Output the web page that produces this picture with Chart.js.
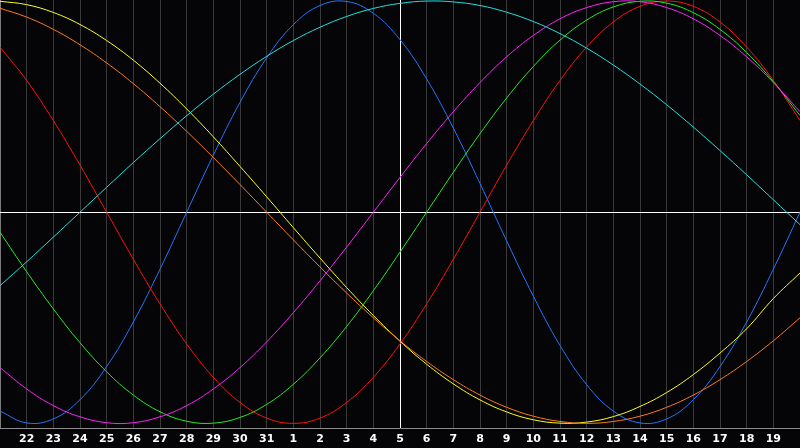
<!DOCTYPE html>
<html>
<head>
<meta charset="utf-8">
<script src="https://cdn.jsdelivr.net/npm/chart.js@4"></script>
<style>
  html, body { margin: 0; padding: 0; background: #050507; }
  #wrap { width: 800px; height: 448px; }
</style>
</head>
<body>
<div id="wrap"><canvas id="bioChart"></canvas></div>
<script>
// days along the x axis (21st of last month to the 20th)
const days = [21, 22, 23, 24, 25, 26, 27, 28, 29, 30, 31,
              1, 2, 3, 4, 5, 6, 7, 8, 9, 10, 11, 12, 13, 14, 15, 16, 17, 18, 19, 20];
const todayIndex = 15;

// cycle values per day
const physical = [-0.942, -0.998, -0.979, -0.888, -0.731, -0.520, -0.270, 0, 0.270, 0.520, 0.731,
  0.888, 0.979, 0.998, 0.942, 0.817, 0.631, 0.398, 0.136, -0.136, -0.398, -0.631, -0.817,
  -0.942, -0.998, -0.979, -0.888, -0.731, -0.520, -0.270, 0];
const emotional = [0.782, 0.624, 0.434, 0.223, 0, -0.223, -0.434, -0.624, -0.782, -0.901, -0.975,
  -1, -0.975, -0.901, -0.782, -0.624, -0.434, -0.223, 0, 0.223, 0.434, 0.624, 0.782,
  0.901, 0.975, 1, 0.975, 0.901, 0.782, 0.624, 0.434];
const intellectual = [-0.095, -0.282, -0.458, -0.618, -0.756, -0.866, -0.945, -0.990, -0.999, -0.972, -0.910,
  -0.815, -0.690, -0.541, -0.372, -0.189, 0, 0.189, 0.372, 0.541, 0.690, 0.815, 0.910,
  0.972, 0.999, 0.990, 0.945, 0.866, 0.756, 0.618, 0.458];
const intuitive = [-0.736, -0.837, -0.916, -0.969, -0.997, -0.997, -0.969, -0.916, -0.837, -0.736, -0.614,
  -0.476, -0.325, -0.165, 0, 0.165, 0.325, 0.476, 0.614, 0.736, 0.837, 0.916, 0.969,
  0.997, 0.997, 0.969, 0.916, 0.837, 0.736, 0.614, 0.476];
const aesthetic = [0.999, 0.983, 0.946, 0.889, 0.813, 0.720, 0.611, 0.489, 0.357, 0.217, 0.073,
  -0.073, -0.217, -0.357, -0.489, -0.611, -0.720, -0.813, -0.889, -0.946, -0.983, -0.999, -0.994,
  -0.968, -0.920, -0.854, -0.769, -0.667, -0.552, -0.409, -0.288];
const awareness = [0.966, 0.924, 0.866, 0.793, 0.707, 0.609, 0.5, 0.383, 0.259, 0.131, 0,
  -0.131, -0.259, -0.383, -0.5, -0.609, -0.707, -0.793, -0.866, -0.924, -0.966, -0.991, -1,
  -0.991, -0.966, -0.924, -0.866, -0.793, -0.707, -0.609, -0.5];
const spiritual = [-0.348, -0.235, -0.118, 0, 0.118, 0.235, 0.348, 0.457, 0.559, 0.653, 0.738,
  0.813, 0.876, 0.927, 0.965, 0.989, 1.0, 0.996, 0.979, 0.947, 0.903, 0.846, 0.777,
  0.697, 0.607, 0.509, 0.403, 0.292, 0.177, 0.059, -0.059];

function line(data, color) {
    return {
        data: data,
        borderColor: color,
        borderWidth: 1,
        pointRadius: 0,
        tension: 0.4,
        fill: false
    };
}

const ctx = document.getElementById('bioChart').getContext('2d');
new Chart(ctx, {
    type: 'line',
    data: {
        labels: days,
        datasets: [
            line(spiritual, '#22e0e0'),
            line(awareness, '#ff7a1a'),
            line(aesthetic, '#ffff22'),
            line(intuitive, '#ff22ff'),
            line(intellectual, '#22ee22'),
            line(emotional, '#ff1111'),
            line(physical, '#2277ff')
        ]
    },
    options: {
        responsive: true,
        maintainAspectRatio: false,
        animation: false,
        // label row is 22px tall, so let it hang 2px past the bottom to keep the plot 428px high
        layout: { autoPadding: false, padding: { left: 0, right: 0, top: 0, bottom: -2 } },
        plugins: {
            legend: { display: false },
            tooltip: { enabled: false }
        },
        scales: {
            x: {
                offset: false,
                border: { color: '#8c8c8c' },
                grid: {
                    drawTicks: false,
                    color: c => c.index === todayIndex ? '#ffffff' : (c.index === 0 ? '#7a7a7a' : '#3a3a3a')
                },
                ticks: {
                    autoSkip: false,
                    maxRotation: 0,
                    padding: 0,
                    color: '#ffffff',
                    font: { family: 'DejaVu Sans', size: 11, weight: 'bold', lineHeight: 2 },
                    callback: (value, index) => (index === 0 || index === days.length - 1) ? '' : days[index]
                }
            },
            y: {
                min: -1.022,
                max: 1.005,
                border: { display: false },
                grid: { drawTicks: false, color: '#ffffff' },
                ticks: { display: false },
                afterBuildTicks: scale => { scale.ticks = [{ value: 0 }]; }
            }
        }
    }
});
</script>
</body>
</html>
